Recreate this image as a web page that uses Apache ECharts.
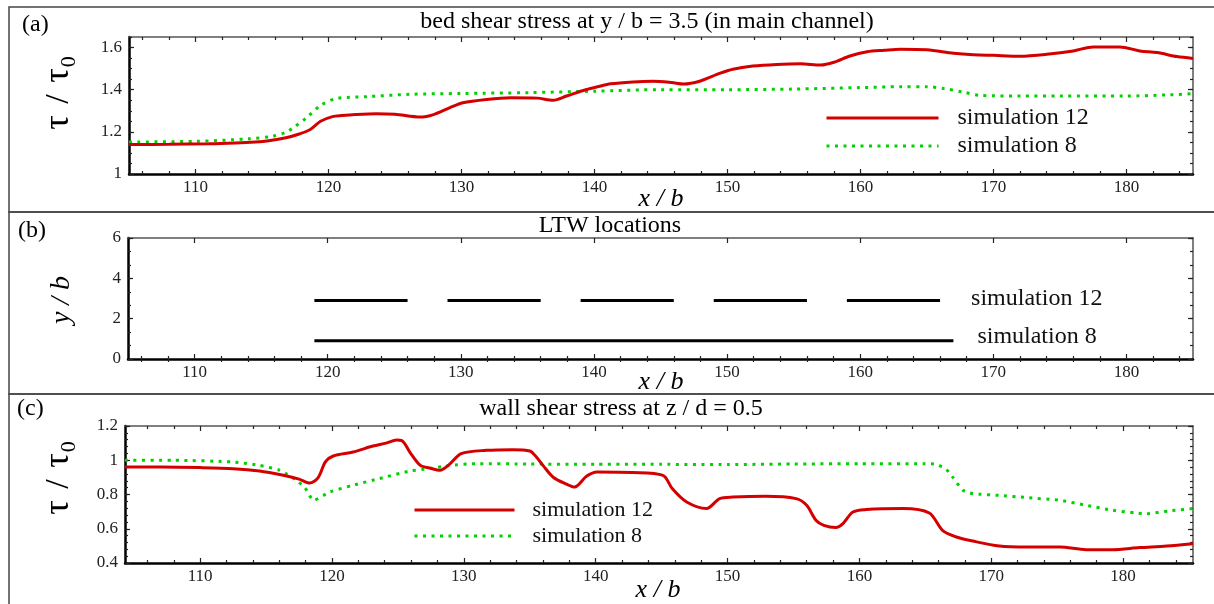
<!DOCTYPE html>
<html><head><meta charset="utf-8">
<script src="https://cdn.jsdelivr.net/npm/echarts@6/dist/echarts.min.js"></script>
<style>html,body{margin:0;padding:0;background:#fff}#c{width:1214px;height:604px}</style>
</head><body><div id="c"></div>
<script>
const FONT = '"Liberation Serif","Times New Roman",serif';

// ---------- tick labels ----------
const xTickLabels = [110, 120, 130, 140, 150, 160, 170, 180];
const aYTickLabels = [1, 1.2, 1.4, 1.6];
const bYTickLabels = [0, 2, 4, 6];
const cYTickLabels = [0.4, 0.6, 0.8, 1, 1.2];

// ---------- panel (a): bed shear stress at y/b = 3.5 ----------
const aSim12X = [105,108,111,113,114.5,115.5,116.8,117.8,118.6,119.4,120.3,121,122,123.6,125,126.9,127.9,129.1,130.1,131.9,133.7,135.7,136.9,137.9,139.4,140.3,141.2,142.9,144.4,145.8,146.7,147.9,149.4,150.4,151.9,153.7,155.5,157,158,159.2,160.5,161.8,163,165,167,168.5,170,172,174,176,177.5,179.5,181,182.3,183.8,185];
const aSim12Y = [1.14,1.141,1.143,1.147,1.152,1.158,1.172,1.19,1.21,1.25,1.272,1.277,1.282,1.286,1.283,1.27,1.282,1.314,1.338,1.354,1.362,1.36,1.35,1.37,1.401,1.415,1.428,1.437,1.44,1.434,1.427,1.44,1.477,1.497,1.512,1.52,1.523,1.517,1.53,1.56,1.58,1.587,1.592,1.589,1.573,1.566,1.563,1.559,1.568,1.584,1.603,1.603,1.584,1.576,1.557,1.548];
const aSim8X = [105,110,114,115.8,116.8,117.4,118.35,119.4,120.6,122.9,126.1,129.9,135,140,145,150,155,160,163,165,166.3,167.7,169,172,175,180,183,185];
const aSim8Y = [1.152,1.155,1.167,1.179,1.198,1.222,1.267,1.325,1.358,1.367,1.378,1.382,1.386,1.393,1.4,1.4,1.403,1.41,1.414,1.414,1.405,1.389,1.373,1.37,1.37,1.37,1.375,1.381];

// ---------- panel (b): LTW locations ----------
const bSim12Starts = [119, 129, 139, 149, 159];
const bSim12Ends   = [126, 136, 146, 156, 166];
const bSim12Level  = 2.9;
const bSim8Start = 119, bSim8End = 167, bSim8Level = 0.9;

// ---------- panel (c): wall shear stress at z/d = 0.5 ----------
const cSim12X = [104.3,107,110,112.5,114.5,116.3,117.5,118.3,118.95,119.5,120.1,121.6,123.1,124.1,124.9,125.3,125.9,126.7,127.4,128.2,128.9,129.8,131.7,133.7,135,135.5,136,136.8,137.8,138.4,139.3,140.1,142.8,145.1,145.8,146.9,148.4,149.4,150.4,152.9,155.2,156,156.7,157.3,158.2,158.75,159.5,160.5,163.3,165.3,166.3,167.35,168.6,170.6,172.7,175.2,177.2,179.2,181.25,183.3,185.3];
const cSim12Y = [0.96,0.96,0.957,0.951,0.937,0.912,0.89,0.867,0.899,0.99,1.025,1.048,1.083,1.1,1.118,1.115,1.048,0.97,0.955,0.941,0.976,1.039,1.058,1.062,1.054,1.019,0.97,0.899,0.86,0.844,0.906,0.931,0.928,0.912,0.835,0.756,0.718,0.776,0.785,0.79,0.776,0.737,0.65,0.62,0.607,0.63,0.698,0.712,0.718,0.692,0.591,0.552,0.528,0.499,0.493,0.493,0.478,0.478,0.49,0.499,0.513];
const cSim8X = [104.3,108,112.5,114.5,116.05,117.3,117.95,118.6,119.84,121.6,123.6,125.9,127.4,128.9,131,135,140,145,150,155,160,165,165.85,166.6,167.1,167.85,168.6,170.6,172.7,175.2,177.2,179.2,181,181.75,183.5,185.3];
const cSim8Y = [1,1,0.99,0.97,0.941,0.883,0.84,0.766,0.815,0.854,0.893,0.937,0.951,0.97,0.98,0.978,0.976,0.976,0.975,0.978,0.98,0.98,0.976,0.945,0.899,0.825,0.805,0.795,0.782,0.766,0.737,0.708,0.692,0.688,0.704,0.718];

const RED = '#d40000', GREEN = '#00d200', BLACK = '#000';

function zip(xs, ys) { return xs.map((x, i) => [x, ys[i]]); }
function steps(min, max, step) { const r = []; for (let v = min; v <= max + 1e-9; v += step) r.push(+v.toFixed(4)); return r; }

const grids = [
  { left: 129, top: 37, right: 21, height: 137 },
  { left: 128, top: 238, right: 21, height: 121 },
  { left: 125, top: 426, right: 21, height: 137 }
];
const xRanges = [[105, 185], [105, 185], [104.3, 185.3]];
const yRanges = [[1, 1.65], [0, 6], [0.4, 1.2]];
const yMajors = [aYTickLabels, bYTickLabels, cYTickLabels];
const yMinorStep = [0.05, 2 / 3, 0.04];

const xAxes = [], yAxes = [];
const tickStyle = { color: '#222', width: 1.2 };
function addAxes(list, gi, min, max, majors, minors, isX) {
  const base = list.length;
  const common = { type: 'value', gridIndex: gi, min, max, splitLine: { show: false } };
  const pos = isX ? ['bottom', 'top'] : ['left', 'right'];
  list.push(Object.assign({}, common, { position: pos[0],
    axisLine: { show: true, onZero: false, lineStyle: { color: BLACK, width: 2.5 } },
    axisTick: { show: true, inside: true, length: 5, customValues: majors, lineStyle: tickStyle },
    axisLabel: { show: true, customValues: majors, margin: isX ? 5 : 7, fontFamily: FONT, fontSize: 17, color: '#222' } }));
  list.push(Object.assign({}, common, { position: pos[0],
    axisLine: { show: false },
    axisTick: { show: true, inside: true, length: 3, customValues: minors, lineStyle: tickStyle },
    axisLabel: { show: false } }));
  list.push(Object.assign({}, common, { position: pos[1],
    axisLine: { show: true, onZero: false, lineStyle: { color: '#555', width: 1.5 } },
    axisTick: { show: true, inside: true, length: 5, customValues: majors, lineStyle: tickStyle },
    axisLabel: { show: false } }));
  list.push(Object.assign({}, common, { position: pos[1],
    axisLine: { show: false },
    axisTick: { show: true, inside: true, length: 3, customValues: minors, lineStyle: tickStyle },
    axisLabel: { show: false } }));
  return base;
}
const xIdx = [], yIdx = [];
for (let g = 0; g < 3; g++) {
  const [x0, x1] = xRanges[g];
  const xMinors = steps(Math.ceil(x0 / 2) * 2, x1, 2).filter(v => v % 10 !== 0);
  xIdx.push(addAxes(xAxes, g, x0, x1, xTickLabels, xMinors, true));
  const [y0, y1] = yRanges[g];
  const yMinors = steps(y0, y1, yMinorStep[g]);
  yIdx.push(addAxes(yAxes, g, y0, y1, yMajors[g], yMinors, false));
}

const dotted = { color: GREEN, width: 3, type: [3, 5.5], cap: 'butt' };
const solidRed = { color: RED, width: 3 };
const series = [
  { name: 'simulation 12', type: 'line', xAxisIndex: xIdx[0], yAxisIndex: yIdx[0], data: zip(aSim12X, aSim12Y), symbol: 'none', smooth: 0.3, lineStyle: solidRed, itemStyle: { color: RED }, z: 3 },
  { name: 'simulation 8', type: 'line', xAxisIndex: xIdx[0], yAxisIndex: yIdx[0], data: zip(aSim8X, aSim8Y), symbol: 'none', smooth: 0.3, lineStyle: dotted, itemStyle: { color: GREEN }, z: 2 },
  { name: 'simulation 12', type: 'line', xAxisIndex: xIdx[2], yAxisIndex: yIdx[2], data: zip(cSim12X, cSim12Y), symbol: 'none', smooth: 0.3, lineStyle: solidRed, itemStyle: { color: RED }, z: 3 },
  { name: 'simulation 8', type: 'line', xAxisIndex: xIdx[2], yAxisIndex: yIdx[2], data: zip(cSim8X, cSim8Y), symbol: 'none', smooth: 0.2, lineStyle: dotted, itemStyle: { color: GREEN }, z: 2 }
];
const ltwLabel = (txt, dist, dy) => ({ show: true, formatter: txt, distance: dist, offset: [0, dy], fontFamily: FONT, fontSize: 24, color: '#111' });
bSim12Starts.forEach((s, i) => {
  const last = i === bSim12Starts.length - 1;
  series.push({ name: 'LTW sim 12 #' + (i + 1), type: 'line', xAxisIndex: xIdx[1], yAxisIndex: yIdx[1],
    data: [[s, bSim12Level], [bSim12Ends[i], bSim12Level]], symbol: 'none',
    lineStyle: { color: BLACK, width: 3 },
    endLabel: last ? ltwLabel('simulation 12', 31, -2) : { show: false } });
});
series.push({ name: 'LTW sim 8', type: 'line', xAxisIndex: xIdx[1], yAxisIndex: yIdx[1],
  data: [[bSim8Start, bSim8Level], [bSim8End, bSim8Level]], symbol: 'none',
  lineStyle: { color: BLACK, width: 3 }, endLabel: ltwLabel('simulation 8', 24, -4) });

const txt = (x, y, text, size, extra) => ({ type: 'text', x, y, silent: true,
  style: Object.assign({ text, fontFamily: FONT, fontSize: size, fill: '#000', align: 'center', verticalAlign: 'middle' }, extra || {}) });
const tauRich = {
  t: { fontFamily: FONT, fontSize: 36 },
  sl: { fontFamily: FONT, fontSize: 34, padding: [0, 3, 0, 3] },
  s: { fontFamily: FONT, fontSize: 22, padding: [20, 0, 0, 1] }
};
const tauLabel = (x, y) => ({ type: 'text', x, y, rotation: Math.PI / 2, silent: true,
  style: { text: '{t|τ} {sl|/} {t|τ}{s|0}', rich: tauRich, fontFamily: FONT, fontSize: 34, fill: '#000', align: 'center', verticalAlign: 'middle' } });
const frame = (y, h) => ({ type: 'rect', silent: true, z: -10, shape: { x: 9, y, width: 1230, height: h }, style: { fill: 'none', stroke: '#444', lineWidth: 1.5 } });

const graphic = [
  frame(7, 205), frame(212, 182), frame(394, 230),
  txt(647, 22, 'bed shear stress at y / b = 3.5 (in main channel)', 24),
  txt(610, 226, 'LTW locations', 24),
  txt(621, 409, 'wall shear stress at z / d = 0.5', 24),
  txt(22, 25, '(a)', 24, { align: 'left' }),
  txt(18, 231, '(b)', 24, { align: 'left' }),
  txt(17, 409, '(c)', 24, { align: 'left' }),
  txt(661, 199, 'x / b', 26, { fontStyle: 'italic' }),
  txt(661, 382, 'x / b', 26, { fontStyle: 'italic' }),
  txt(658, 590, 'x / b', 26, { fontStyle: 'italic' }),
  tauLabel(59, 93),
  tauLabel(59, 478),
  Object.assign(txt(62, 300, 'y / b', 28, { fontStyle: 'italic' }), { rotation: Math.PI / 2 })
];

const legendCommon = { orient: 'vertical', padding: 0, selectedMode: false, data: ['simulation 12', 'simulation 8'],
  itemStyle: { opacity: 0, borderWidth: 0 }, lineStyle: { width: 3 } };
const option = {
  backgroundColor: '#fff',
  animation: false,
  grid: grids,
  xAxis: xAxes,
  yAxis: yAxes,
  legend: [
    Object.assign({}, legendCommon, { left: 825, top: 106, itemWidth: 112, itemHeight: 14, itemGap: 4,
      textStyle: { fontFamily: FONT, fontSize: 24, color: '#111', padding: [0, 0, 0, 14] } }),
    Object.assign({}, legendCommon, { left: 413, top: 499, itemWidth: 100, itemHeight: 14, itemGap: 4,
      textStyle: { fontFamily: FONT, fontSize: 22, color: '#111', padding: [0, 0, 0, 13] } })
  ],
  series,
  graphic
};
const chart = echarts.init(document.getElementById('c'), null, { renderer: 'canvas' });
chart.setOption(option);
</script>
</body></html>
